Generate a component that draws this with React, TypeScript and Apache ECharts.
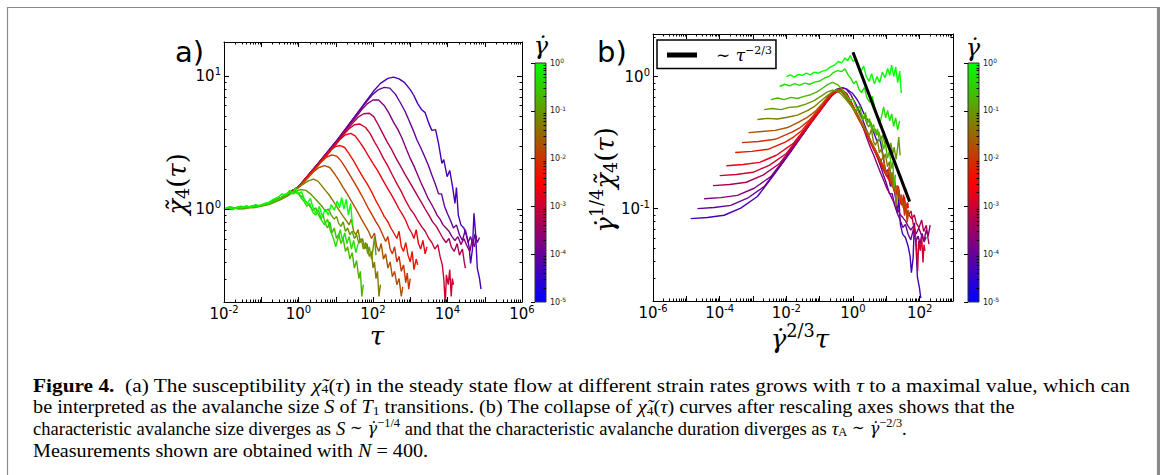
import React, { useEffect, useRef } from 'react';
import * as echarts from 'echarts';

// strain rates (gamma dot) of the 14 curves, fastest first
const GAMMA_DOT = [1, 0.5, 0.2, 0.1, 0.05, 0.02, 0.01, 0.005, 0.002, 0.001, 5e-4, 2e-4, 1e-4, 5e-5];

// panel (a) curves: [log10(tau), chi4(tau)]
const CHI_1 = [[-2,1.0],[-1.88,1.03],[-1.76,0.99],[-1.64,1.04],[-1.52,1.02],[-1.4,1.06],[-1.28,1.03],[-1.16,1.08],[-1.04,1.06],[-0.92,1.1],[-0.8,1.12],[-0.68,1.18],[-0.56,1.22],[-0.44,1.3],[-0.34,1.27],[-0.24,1.38],[-0.16,1.32],[-0.08,1.44],[0.0,1.3],[0.08,1.35],[0.16,1.18],[0.24,1.1],[0.32,1.2],[0.4,1.0],[0.48,0.92],[0.56,1.05],[0.64,0.88],[0.72,1.0],[0.8,0.9],[0.88,1.08],[0.96,0.98],[1.04,1.15],[1.1,1.02],[1.16,1.22],[1.22,1.0],[1.28,1.18],[1.34,0.9],[1.4,1.1],[1.45,0.75]];
const CHI_0_5 = [[-2,1.0],[-1.85,1.04],[-1.7,1.01],[-1.55,1.05],[-1.4,1.02],[-1.25,1.06],[-1.1,1.04],[-0.95,1.08],[-0.8,1.1],[-0.65,1.16],[-0.5,1.2],[-0.38,1.28],[-0.26,1.32],[-0.14,1.3],[-0.04,1.36],[0.06,1.22],[0.14,1.15],[0.22,1.05],[0.3,1.1],[0.38,0.95],[0.46,0.9],[0.54,0.98],[0.62,0.82],[0.7,0.76],[0.78,0.84],[0.86,0.68],[0.94,0.6],[1.0,0.52],[1.06,0.6],[1.12,0.7],[1.18,0.58],[1.24,0.66],[1.3,0.55],[1.36,0.62],[1.42,0.5],[1.48,0.58],[1.54,0.47],[1.6,0.55]];
const CHI_0_2 = [[-2,1.0],[-1.8,1.03],[-1.6,1.0],[-1.4,1.04],[-1.2,1.02],[-1,1.06],[-0.8,1.09],[-0.6,1.15],[-0.45,1.22],[-0.3,1.3],[-0.15,1.35],[0,1.3],[0.12,1.22],[0.22,1.12],[0.3,1.05],[0.38,0.98],[0.46,1.02],[0.54,0.9],[0.6,0.84],[0.66,0.9],[0.72,0.78],[0.78,0.72],[0.84,0.8],[0.9,0.66],[0.96,0.72],[1.02,0.6],[1.08,0.65],[1.14,0.55],[1.2,0.6],[1.26,0.48],[1.32,0.52],[1.38,0.42],[1.44,0.47],[1.5,0.36],[1.56,0.41],[1.62,0.3],[1.66,0.34],[1.7,0.22],[1.74,0.27]];
const CHI_0_1 = [[-2,1.0],[-1.75,1.02],[-1.5,1.0],[-1.25,1.04],[-1,1.05],[-0.75,1.1],[-0.5,1.17],[-0.3,1.26],[-0.1,1.36],[0.05,1.4],[0.2,1.38],[0.32,1.3],[0.44,1.2],[0.54,1.12],[0.64,1.04],[0.72,0.96],[0.8,1.0],[0.88,0.9],[0.96,0.84],[1.02,0.88],[1.08,0.78],[1.14,0.74],[1.2,0.8],[1.26,0.68],[1.32,0.72],[1.38,0.64],[1.44,0.68],[1.5,0.6],[1.56,0.64],[1.62,0.55],[1.68,0.6],[1.74,0.5],[1.8,0.56],[1.86,0.46],[1.9,0.52],[1.96,0.42],[2.0,0.5],[2.04,0.62],[2.08,0.45]];
const CHI_0_05 = [[-2,1.0],[-1.7,1.02],[-1.4,1.01],[-1.1,1.04],[-0.8,1.08],[-0.5,1.17],[-0.3,1.25],[-0.1,1.38],[0.1,1.52],[0.25,1.62],[0.4,1.68],[0.52,1.62],[0.62,1.5],[0.72,1.38],[0.82,1.28],[0.92,1.16],[1.02,1.05],[1.12,0.95],[1.2,0.88],[1.28,0.82],[1.36,0.76],[1.42,0.84],[1.48,0.68],[1.54,0.64],[1.6,0.7],[1.66,0.56],[1.72,0.6],[1.78,0.5],[1.84,0.55],[1.9,0.44],[1.96,0.48],[2.0,0.36],[2.04,0.4],[2.08,0.3],[2.12,0.34],[2.16,0.22],[2.2,0.27]];
const CHI_0_02 = [[-2,1.0],[-1.6,1.02],[-1.2,1.04],[-0.8,1.1],[-0.5,1.2],[-0.25,1.3],[0,1.45],[0.2,1.65],[0.4,1.9],[0.55,2.05],[0.7,2.12],[0.84,2.05],[0.96,1.85],[1.08,1.65],[1.2,1.45],[1.32,1.28],[1.44,1.12],[1.56,0.98],[1.68,0.85],[1.78,0.76],[1.88,0.68],[1.96,0.6],[2.04,0.66],[2.1,0.52],[2.16,0.48],[2.22,0.55],[2.28,0.42],[2.34,0.46],[2.4,0.36],[2.46,0.4],[2.52,0.31],[2.58,0.34],[2.64,0.27],[2.7,0.3],[2.76,0.22],[2.8,0.26]];
const CHI_0_01 = [[-2,1.0],[-1.5,1.02],[-1,1.06],[-0.5,1.2],[-0.25,1.3],[0,1.46],[0.25,1.72],[0.45,2.0],[0.6,2.25],[0.75,2.45],[0.9,2.55],[1.02,2.5],[1.14,2.3],[1.26,2.05],[1.38,1.8],[1.5,1.58],[1.62,1.38],[1.74,1.2],[1.86,1.03],[1.98,0.9],[2.08,0.8],[2.18,0.72],[2.26,0.64],[2.34,0.57],[2.4,0.62],[2.46,0.5],[2.52,0.46],[2.58,0.52],[2.64,0.4],[2.7,0.44],[2.76,0.34],[2.82,0.38],[2.88,0.28],[2.92,0.33],[2.96,0.25],[3.0,0.3]];
const CHI_0_005 = [[-2,1.0],[-1.5,1.02],[-1,1.06],[-0.5,1.2],[-0.25,1.31],[0,1.47],[0.25,1.75],[0.5,2.08],[0.7,2.45],[0.85,2.75],[1.0,2.95],[1.12,3.0],[1.24,2.9],[1.36,2.6],[1.48,2.3],[1.6,2.0],[1.72,1.75],[1.84,1.55],[1.96,1.35],[2.08,1.15],[2.2,1.0],[2.3,0.88],[2.4,0.8],[2.48,0.72],[2.56,0.66],[2.64,0.6],[2.7,0.68],[2.76,0.52],[2.82,0.48],[2.88,0.56],[2.94,0.45],[3.0,0.4],[3.05,0.48],[3.1,0.35],[3.16,0.42],[3.2,0.38]];
const CHI_0_002 = [[-2,1.0],[-1.5,1.02],[-1,1.06],[-0.5,1.2],[0,1.47],[0.25,1.76],[0.5,2.1],[0.75,2.5],[0.95,2.95],[1.1,3.3],[1.25,3.6],[1.4,3.7],[1.52,3.55],[1.64,3.2],[1.76,2.85],[1.88,2.5],[2.0,2.2],[2.12,1.95],[2.24,1.7],[2.36,1.48],[2.48,1.3],[2.6,1.13],[2.7,1.0],[2.8,0.9],[2.88,0.82],[2.96,0.72],[3.04,0.66],[3.1,0.6],[3.16,0.7],[3.22,0.55],[3.28,0.5],[3.34,0.58],[3.4,0.46],[3.45,0.52]];
const CHI_0_001 = [[-2,1.0],[-1.5,1.02],[-1,1.06],[-0.5,1.2],[0,1.47],[0.5,2.12],[0.75,2.55],[1,3.05],[1.2,3.6],[1.35,4.0],[1.5,4.3],[1.65,4.35],[1.8,4.1],[1.92,3.7],[2.04,3.2],[2.16,2.8],[2.28,2.4],[2.4,2.1],[2.52,1.8],[2.64,1.55],[2.76,1.35],[2.88,1.15],[3.0,1.0],[3.1,0.92],[3.2,0.82],[3.3,0.74],[3.4,0.68],[3.5,0.6],[3.58,0.56],[3.66,0.5],[3.74,0.54],[3.8,0.44],[3.86,0.38],[3.9,0.3],[3.94,0.19],[3.97,0.32],[4.02,0.27],[4.06,0.35],[4.1,0.22],[4.13,0.3],[4.16,0.27]];
const CHI_5E_4 = [[-2,1.0],[-1.5,1.02],[-1,1.06],[-0.5,1.2],[0,1.47],[0.5,2.14],[0.75,2.58],[1,3.1],[1.25,3.8],[1.45,4.4],[1.6,4.9],[1.75,5.2],[1.9,5.25],[2.02,4.95],[2.14,4.3],[2.26,3.7],[2.38,3.2],[2.5,2.8],[2.62,2.4],[2.74,2.1],[2.86,1.82],[2.98,1.6],[3.1,1.4],[3.2,1.25],[3.3,1.12],[3.4,1.0],[3.5,0.9],[3.6,0.8],[3.7,0.74],[3.8,0.66],[3.88,0.6],[3.96,0.56],[4.04,0.6],[4.1,0.52],[4.18,0.48],[4.26,0.55],[4.32,0.45],[4.4,0.5],[4.45,0.4],[4.48,0.36]];
const CHI_2E_4 = [[-2,1.0],[-1.5,1.02],[-1,1.06],[-0.5,1.2],[0,1.47],[0.5,2.15],[1,3.15],[1.25,3.9],[1.5,4.75],[1.7,5.6],[1.85,6.2],[2.0,6.6],[2.15,6.6],[2.3,6.0],[2.42,5.3],[2.55,4.5],[2.67,3.95],[2.78,3.4],[2.9,2.8],[3.0,2.4],[3.1,2.1],[3.2,1.8],[3.3,1.55],[3.4,1.35],[3.48,1.2],[3.56,1.1],[3.64,1.0],[3.72,0.9],[3.8,0.84],[3.88,0.76],[3.96,0.72],[4.04,0.68],[4.12,0.62],[4.2,0.58],[4.28,0.62],[4.36,0.54],[4.44,0.6],[4.52,0.53],[4.6,0.48],[4.66,0.58],[4.72,0.52],[4.78,0.63]];
const CHI_1E_4 = [[-2,1.0],[-1.5,1.02],[-1,1.06],[-0.5,1.2],[0,1.47],[0.5,2.15],[1,3.2],[1.5,4.9],[1.75,6.05],[2,7.3],[2.15,7.9],[2.3,8.2],[2.45,8.1],[2.6,7.3],[2.72,6.4],[2.85,5.5],[2.97,4.6],[3.08,3.9],[3.18,3.3],[3.28,2.9],[3.38,2.5],[3.48,2.15],[3.58,1.8],[3.67,1.55],[3.76,1.3],[3.84,1.3],[3.92,1.05],[4.0,0.92],[4.08,0.82],[4.16,0.72],[4.24,0.76],[4.32,0.64],[4.4,0.58],[4.48,0.7],[4.55,0.56],[4.62,0.62],[4.68,0.54],[4.74,0.65],[4.8,0.56],[4.86,0.61]];
const CHI_5E_5 = [[-2,1.0],[-1.5,1.02],[-1,1.06],[-0.5,1.2],[0,1.47],[0.5,2.15],[1,3.2],[1.5,4.9],[1.75,6.1],[2,7.6],[2.2,8.8],[2.4,9.6],[2.55,9.8],[2.7,9.5],[2.85,8.9],[3.0,7.9],[3.1,7.1],[3.2,6.2],[3.3,5.6],[3.4,5.3],[3.5,4.4],[3.58,3.9],[3.68,3.95],[3.76,3.1],[3.85,2.2],[3.9,2.35],[3.99,1.75],[4.06,1.95],[4.14,1.45],[4.2,1.1],[4.24,1.45],[4.29,0.9],[4.36,0.76],[4.44,0.72],[4.52,0.62],[4.58,0.52],[4.62,0.39],[4.67,0.5],[4.71,0.93],[4.75,0.68],[4.8,0.36],[4.86,0.3],[4.9,0.25]];

const CURVES = [CHI_1, CHI_0_5, CHI_0_2, CHI_0_1, CHI_0_05, CHI_0_02, CHI_0_01, CHI_0_005, CHI_0_002, CHI_0_001, CHI_5E_4, CHI_2E_4, CHI_1E_4, CHI_5E_5];

// reference power law ~ tau^(-2/3) in panel (b)
const FIT_X = [1, 50];
const FIT_Y = [1.53, 0.113];

// axis ranges
const A_X_RANGE = [1e-2, 1e6];
const A_Y_RANGE = [0.2, 18];
const B_X_RANGE = [1e-6, 1e3];
const B_Y_RANGE = [0.02, 2.1];
const CBAR_RANGE = [1e-5, 1];

const CAPTION = [
  '{b|Figure 4.}{r|  (a) The susceptibility }{i|χ̃}{sub|4}{r|(}{i|τ}{r|) in the steady state flow at different strain rates grows with }{i|τ}{r| to a maximal value, which can}',
  '{r|be interpreted as the avalanche size }{i|S}{r| of }{i|T}{sub|1}{r| transitions. (b) The collapse of }{i|χ̃}{sub|4}{r|(}{i|τ}{r|) curves after rescaling axes shows that the}',
  '{r|characteristic avalanche size diverges as }{i|S}{m| ∼ }{gd|γ̇}{sup|−1/4}{r| and that the characteristic avalanche duration diverges as }{i|τ}{sub|A}{m| ∼ }{gd|γ̇}{sup|−2/3}{r|.}',
  '{r|Measurements shown are obtained with }{i|N}{r| = 400.}',
];
// caption line widths and vertical centres in the figure (layout)
const CAPTION_WIDTH = [1097, 982, 874, 395];
const CAPTION_Y = [385, 406.5, 428, 450];

function cmap(g: number): string {
  const p = Math.min(1, Math.max(0, (Math.log10(g) + 5) / 5));
  if (p < 0.5) {
    const t = p / 0.5;
    return `rgb(${Math.round(255 * t)},0,${Math.round(255 * (1 - t))})`;
  }
  const t = (p - 0.5) / 0.5;
  return `rgb(${Math.round(255 * (1 - t))},${Math.round(255 * t)},0)`;
}

function minorTicks(lo: number, hi: number): number[] {
  const out: number[] = [];
  for (let k = Math.floor(Math.log10(lo)); k <= Math.ceil(Math.log10(hi)); k++) {
    for (let m = 2; m <= 9; m++) {
      const v = m * Math.pow(10, k);
      if (v > lo * 1.0001 && v < hi * 0.9999) out.push(v);
    }
  }
  return out;
}

const powLabel = (evenOnly: boolean) => (v: number) => {
  const e = Math.log10(v);
  const r = Math.round(e);
  if (Math.abs(e - r) > 1e-6) return '';
  if (evenOnly && r % 2 !== 0) return '';
  return `{b|10}{s|${r}}`;
};

const SANS = 'DejaVu Sans';
const SERIF = 'DejaVu Serif';

const tickRich = {
  b: { fontSize: 15, fontFamily: SANS, color: '#000' },
  s: { fontSize: 10, fontFamily: SANS, color: '#000', padding: [0, 0, 9, 0] },
};
const cbarRich = {
  b: { fontSize: 8, fontFamily: SANS, color: '#222' },
  s: { fontSize: 6, fontFamily: SANS, color: '#222', padding: [0, 0, 5, 0] },
};

function tickRender(params: any, api: any) {
  const kind = api.value(2);
  const cs = params.coordSys;
  const L = 2.5;
  const style = { stroke: '#000', lineWidth: 1 };
  const p = api.coord([api.value(0), api.value(1)]);
  if (kind === 0) {
    const x = Math.round(p[0]) + 0.5;
    return {
      type: 'group',
      children: [
        { type: 'line', shape: { x1: x, y1: cs.y + cs.height, x2: x, y2: cs.y + cs.height - L }, style },
        { type: 'line', shape: { x1: x, y1: cs.y, x2: x, y2: cs.y + L }, style },
      ],
    };
  }
  const y = Math.round(p[1]) + 0.5;
  const children: any[] = [
    { type: 'line', shape: { x1: cs.x + cs.width, y1: y, x2: cs.x + cs.width - L, y2: y }, style },
  ];
  if (kind === 1) children.push({ type: 'line', shape: { x1: cs.x, y1: y, x2: cs.x + L, y2: y }, style });
  return { type: 'group', children };
}

function logAxis(gridIndex: number, range: number[], position: string, labels: any) {
  return {
    type: 'log',
    gridIndex,
    min: range[0],
    max: range[1],
    position,
    logBase: 10,
    z: 10,
    axisLine: { show: true, onZero: false, lineStyle: { color: '#000', width: 1 } },
    axisTick: { show: true, inside: true, length: 5, lineStyle: { color: '#000', width: 1 } },
    splitLine: { show: false },
    minorTick: { show: false },
    axisLabel: labels
      ? { show: true, interval: 0, margin: labels.margin, formatter: labels.formatter, rich: labels.rich, showMinLabel: true, showMaxLabel: true }
      : { show: false },
  };
}

export default function App() {
  const ref = useRef<HTMLDivElement>(null);
  useEffect(() => {
    if (!ref.current) return;
    const chart = echarts.init(ref.current, undefined, { renderer: 'svg' });

    const series: any[] = [];
    for (let i = CURVES.length - 1; i >= 0; i--) {
      const g = GAMMA_DOT[i];
      const color = cmap(g);
      const pts = CURVES[i];
      series.push({
        type: 'line', name: 'a' + i, xAxisIndex: 0, yAxisIndex: 0, showSymbol: false, symbol: 'none',
        lineStyle: { color, width: 1.4 }, itemStyle: { color }, z: 2,
        data: pts.map(([lt, c]) => [Math.pow(10, lt), c]),
      });
      const sx = Math.pow(g, 2 / 3);
      const sy = Math.pow(g, 1 / 4);
      series.push({
        type: 'line', name: 'b' + i, xAxisIndex: 2, yAxisIndex: 2, showSymbol: false, symbol: 'none',
        lineStyle: { color, width: 1.4 }, itemStyle: { color }, z: 2,
        data: pts.map(([lt, c]) => [sx * Math.pow(10, lt), sy * c]),
      });
    }
    series.push({
      type: 'line', name: 'fit', xAxisIndex: 2, yAxisIndex: 2, showSymbol: false, symbol: 'none',
      lineStyle: { color: '#000', width: 3 }, itemStyle: { color: '#000' }, z: 5,
      data: FIT_X.map((x, i) => [x, FIT_Y[i]]),
    });

    // minor ticks
    const tickData = (xr: number[], yr: number[]) => [
      ...minorTicks(xr[0], xr[1]).map((v) => [v, 1, 0]),
      ...minorTicks(yr[0], yr[1]).map((v) => [1, v, 1]),
    ];
    series.push({ type: 'custom', xAxisIndex: 0, yAxisIndex: 0, silent: true, clip: false, z: 10, renderItem: tickRender, data: tickData(A_X_RANGE, A_Y_RANGE) });
    series.push({ type: 'custom', xAxisIndex: 2, yAxisIndex: 2, silent: true, clip: false, z: 10, renderItem: tickRender, data: tickData(B_X_RANGE, B_Y_RANGE) });

    const gradient = () => new echarts.graphic.LinearGradient(0, 0, 0, 1, [
      { offset: 0, color: 'rgb(0,255,0)' },
      { offset: 0.5, color: 'rgb(255,0,0)' },
      { offset: 1, color: 'rgb(0,0,255)' },
    ]);
    [4, 5].forEach((ai) => {
      series.push({
        type: 'custom', xAxisIndex: ai, yAxisIndex: ai, silent: true, clip: false, z: 1,
        renderItem: (params: any) => {
          const cs = params.coordSys;
          return { type: 'rect', shape: { x: cs.x, y: cs.y, width: cs.width, height: cs.height }, style: { fill: gradient(), stroke: '#333', lineWidth: 1 } };
        },
        data: [[0.5, 0.01]],
      });
      series.push({
        type: 'custom', xAxisIndex: ai, yAxisIndex: ai, silent: true, clip: false, z: 10,
        renderItem: tickRender,
        data: minorTicks(CBAR_RANGE[0], CBAR_RANGE[1]).map((v) => [0.5, v, 2]),
      });
    });

    const hiddenValueAxis = (gridIndex: number) => ({
      type: 'value', gridIndex, min: 0, max: 1, show: false,
    });

    const cbarAxis = (gridIndex: number) => ({
      type: 'log', gridIndex, min: CBAR_RANGE[0], max: CBAR_RANGE[1], position: 'right', z: 10,
      axisLine: { show: false },
      axisTick: { show: true, inside: true, length: 4, lineStyle: { color: '#000', width: 1 } },
      splitLine: { show: false },
      axisLabel: { show: true, interval: 0, margin: 4, formatter: powLabel(false), rich: cbarRich },
    });

    const mathRich = (fs: number) => ({
      g: { fontSize: fs, fontFamily: SERIF, fontStyle: 'italic', color: '#000' },
      p: { fontSize: fs, fontFamily: SERIF, color: '#000' },
      u: { fontSize: fs * 0.68, fontFamily: SERIF, color: '#000', padding: [fs * 0.45, 0, 0, 0] },
      s: { fontSize: fs * 0.68, fontFamily: SERIF, color: '#000', padding: [0, 0, fs * 0.6, 0] },
    });

    const capBase = { fontSize: 19.5, fontFamily: 'Liberation Serif', color: '#231f20' };
    const capRich = {
      r: { ...capBase },
      b: { ...capBase, fontWeight: 'bold' },
      i: { ...capBase, fontStyle: 'italic' },
      m: { ...capBase, fontFamily: SERIF, fontSize: 16 },
      gd: { ...capBase, fontFamily: SERIF, fontStyle: 'italic', fontSize: 17 },
      sub: { ...capBase, fontSize: 13, padding: [8, 0, 0, 0] },
      sup: { ...capBase, fontSize: 13, padding: [0, 0, 10, 0] },
    };

    const captionEls = CAPTION.map((t, i) => {
      let scaleX = 1;
      try {
        const probe = new (echarts.graphic as any).Text({ style: { text: t, rich: capRich } });
        const w = probe.getBoundingRect().width;
        if (w > 100) scaleX = CAPTION_WIDTH[i] / w;
      } catch (e) {
        scaleX = 1;
      }
      return {
        type: 'text', silent: true, x: 33, y: CAPTION_Y[i], scaleX,
        style: { text: t, rich: capRich, x: 0, y: 0, align: 'left', verticalAlign: 'middle' },
      };
    });

    const graphic: any[] = [
      { type: 'rect', silent: true, shape: { x: 7.5, y: 7.5, width: 1150, height: 520 }, style: { fill: 'none', stroke: '#8a8a8a', lineWidth: 1.2 } },
      { type: 'rect', silent: true, shape: { x: 1157, y: 7, width: 3, height: 520 }, style: { fill: '#8a8a8a' } },
      { type: 'text', silent: true, style: { text: 'a)', x: 175, y: 52, fontSize: 29, fontFamily: SANS, fill: '#000', align: 'left', verticalAlign: 'middle' } },
      { type: 'text', silent: true, style: { text: 'b)', x: 597, y: 52, fontSize: 29, fontFamily: SANS, fill: '#000', align: 'left', verticalAlign: 'middle' } },
      { type: 'text', silent: true, style: { text: 'γ̇', x: 541, y: 46, fontSize: 24, fontFamily: SERIF, fontStyle: 'italic', fill: '#000', align: 'center', verticalAlign: 'middle' } },
      { type: 'text', silent: true, style: { text: 'γ̇', x: 973, y: 48, fontSize: 24, fontFamily: SERIF, fontStyle: 'italic', fill: '#000', align: 'center', verticalAlign: 'middle' } },
      { type: 'text', silent: true, style: { text: '{g|τ}', rich: mathRich(26), x: 377, y: 336, align: 'center', verticalAlign: 'middle' } },
      { type: 'text', silent: true, style: { text: '{g|γ̇}{s|2/3}{g|τ}', rich: mathRich(26), x: 800, y: 339, align: 'center', verticalAlign: 'middle' } },
      { type: 'text', silent: true, x: 177, y: 184, rotation: Math.PI / 2, style: { text: '{g|χ̃}{u|4}{p|(}{g|τ}{p|)}', rich: mathRich(26), x: 0, y: 0, align: 'center', verticalAlign: 'middle' } },
      { type: 'text', silent: true, x: 605, y: 180, rotation: Math.PI / 2, style: { text: '{g|γ̇}{s|1/4}{g|χ̃}{u|4}{p|(}{g|τ}{p|)}', rich: mathRich(26), x: 0, y: 0, align: 'center', verticalAlign: 'middle' } },
      ...captionEls,
    ];

    chart.setOption({
      animation: false,
      backgroundColor: '#fff',
      grid: [
        { left: 224, top: 42, width: 298, height: 260 },
        { left: 653, top: 34, width: 300, height: 267 },
        { left: 535, top: 63, width: 11, height: 239 },
        { left: 968, top: 63, width: 11, height: 239 },
      ],
      xAxis: [
        logAxis(0, A_X_RANGE, 'bottom', { margin: 2, formatter: powLabel(true), rich: tickRich }),
        logAxis(0, A_X_RANGE, 'top', null),
        logAxis(1, B_X_RANGE, 'bottom', { margin: 2, formatter: powLabel(true), rich: tickRich }),
        logAxis(1, B_X_RANGE, 'top', null),
        hiddenValueAxis(2),
        hiddenValueAxis(3),
      ],
      yAxis: [
        logAxis(0, A_Y_RANGE, 'left', { margin: 3, formatter: powLabel(false), rich: tickRich }),
        logAxis(0, A_Y_RANGE, 'right', null),
        logAxis(1, B_Y_RANGE, 'left', { margin: 3, formatter: powLabel(false), rich: tickRich }),
        logAxis(1, B_Y_RANGE, 'right', null),
        cbarAxis(2),
        cbarAxis(3),
      ],
      legend: {
        data: [{ name: 'fit', icon: 'rect' }],
        left: 657, top: 40,
        selectedMode: false,
        itemWidth: 30, itemHeight: 5,
        padding: [5, 4, 5, 10],
        borderColor: '#000', borderWidth: 1.5, borderRadius: 0,
        backgroundColor: '#fff',
        formatter: () => '{p|∼ }{g|τ}{s|−2/3}',
        textStyle: {
          rich: {
            p: { fontSize: 17, fontFamily: SERIF, color: '#000', padding: [0, 0, 0, 14] },
            g: { fontSize: 17, fontFamily: SERIF, fontStyle: 'italic', color: '#000' },
            s: { fontSize: 11, fontFamily: SERIF, color: '#000', padding: [0, 0, 9, 0] },
          },
        },
      },
      series,
      graphic,
    });
    return () => chart.dispose();
  }, []);
  return <div ref={ref} style={{ position: 'fixed', left: 0, top: 0, width: 1163, height: 475, background: '#fff' }} />;
}
